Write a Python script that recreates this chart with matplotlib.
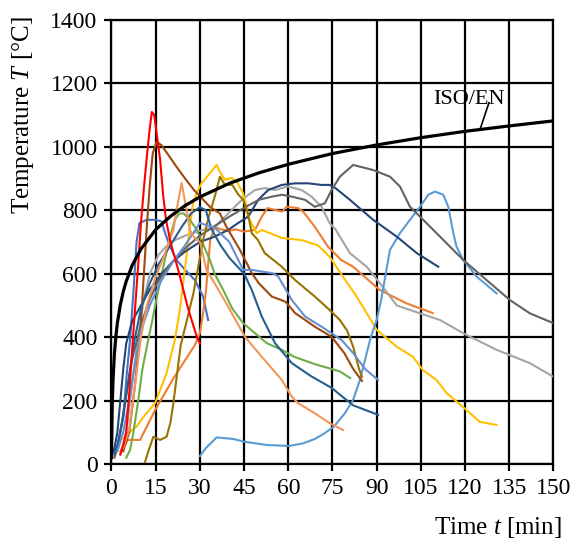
import matplotlib
matplotlib.use("Agg")
import matplotlib.pyplot as plt

# fonts ---------------------------------------------------------------
plt.rcParams['font.family'] = ['Liberation Serif', 'DejaVu Serif']
plt.rcParams['mathtext.fontset'] = 'custom'
plt.rcParams['mathtext.rm'] = 'Liberation Serif'
plt.rcParams['mathtext.it'] = 'Liberation Serif:italic'

# standard fire curve (ISO 834 / EN 1991-1-2), values in min / degC
iso_t = [0, 0.25, 0.5, 1, 1.5, 2, 3, 4, 5, 7, 10, 15, 20, 25, 30, 40, 50, 60, 75, 90, 105, 120, 135, 150]
iso_T = [20, 185, 261, 349, 404, 445, 502, 544, 576, 626, 678, 739, 781, 815, 842, 885, 918, 945, 979, 1006, 1029, 1049, 1066, 1082]

# measured gas temperatures, one pair of lists per test
red_t = [3, 4, 5, 6, 7, 8, 9, 10, 11, 12, 13, 13.7, 14.5, 15.5, 16.5, 17.5, 18.5, 20, 23, 26, 29, 30]
red_T = [30, 60, 100, 220, 360, 490, 620, 760, 870, 970, 1060, 1110, 1100, 1030, 960, 850, 770, 700, 600, 490, 400, 380]

brown_t = [4, 6, 8, 10, 11, 12, 13, 14, 15.3, 17, 20, 22, 25, 28, 33.4, 36.8, 39, 43.6, 47.6, 50, 54.4, 59, 62.3, 69, 74.7, 79, 82, 85]
brown_T = [40, 100, 250, 450, 600, 750, 880, 980, 1016, 1005, 965, 938, 900, 864, 811, 790, 748, 675, 602, 570, 528, 512, 476, 433, 401, 350, 300, 262]

olive_t = [11.4, 12.5, 14.2, 16.5, 18.7, 20, 21, 23.5, 25.5, 27.8, 31.1, 33, 35, 36.8, 38.5, 41, 43, 44.7, 46.3, 47.6, 49.7, 52, 57.8, 62.3, 69, 74, 77.5, 80, 82, 84, 85]
olive_T = [7, 40, 86, 76, 86, 130, 192, 375, 450, 538, 706, 780, 842, 906, 880, 880, 850, 833, 790, 728, 706, 665, 622, 580, 528, 486, 454, 420, 370, 300, 275]

gold_t = [4, 7, 8.5, 11, 14.8, 18.7, 21.5, 23.2, 25, 26.6, 27.7, 28.9, 30.6, 33.4, 35.7, 36.8, 38.5, 40.8, 42.5, 44.6, 45.9, 46.3, 49.3, 51, 57.8, 64.5, 70, 74, 78.6, 83.2, 86.6, 90, 96.8, 102.3, 105.7, 110.3, 113.7, 120.5, 125, 130.7]
gold_T = [80, 107, 118, 150, 192, 287, 391, 486, 620, 748, 823, 855, 886, 917, 943, 921, 896, 902, 890, 855, 811, 780, 728, 738, 713, 706, 690, 654, 590, 528, 476, 423, 370, 338, 296, 265, 224, 170, 133, 123]

orange_t = [3, 5.6, 9.7, 14.8, 21, 28.3, 30, 31, 32, 33, 33.5, 35, 37, 40, 42, 45, 48.7, 51, 53, 55.5, 58, 59.4, 63.3, 65, 69, 73.5, 78, 82, 91, 100, 109]
orange_T = [40, 76, 76, 170, 270, 375, 413, 470, 540, 650, 706, 748, 740, 735, 740, 733, 738, 780, 807, 801, 796, 811, 807, 796, 748, 685, 643, 622, 549, 507, 476]

peach_t = [4, 6, 8, 10, 12, 15, 18, 21, 22.1, 23.8, 25.5, 26.6, 28, 30, 32.3, 35, 39.6, 45.3, 51, 57.8, 61.2, 63.3, 69, 74, 78.6]
peach_T = [50, 110, 250, 400, 500, 590, 660, 738, 801, 886, 801, 738, 715, 700, 610, 570, 496, 401, 338, 265, 212, 192, 160, 129, 107]

green_t = [5, 6.3, 7.4, 9.1, 10.5, 12, 14, 15.9, 18, 20, 21.5, 23, 24.5, 26.6, 28.9, 33.4, 35, 37.9, 41, 44.7, 52.7, 57.8, 62, 69, 77.5, 81]
green_T = [20, 44, 98, 202, 300, 370, 460, 549, 640, 720, 770, 790, 790, 770, 740, 643, 600, 549, 490, 444, 381, 360, 338, 315, 292, 271]

skyblue_t = [30, 32, 35.7, 41.3, 45.3, 52.7, 60.3, 65, 69, 72, 75.5, 79.2, 82, 84.3, 86.6, 88, 90, 91.5, 94.5, 97.9, 101.3, 104.7, 107.5, 109.8, 112.6, 114.3, 116, 117.1, 119.4, 123.9, 130.7]
skyblue_T = [25, 50, 84, 79, 70, 60, 57, 65, 79, 95, 118, 160, 202, 265, 349, 400, 454, 517, 675, 728, 770, 811, 849, 859, 849, 811, 728, 685, 643, 591, 538]

navy_t = [0, 1, 2, 3, 4, 5, 7, 10, 13, 17, 21, 25, 30, 35, 39.6, 43, 46.4, 49.8, 53.2, 57.8, 62.3, 66.8, 71.3, 74.1, 76, 80.9, 88.8, 96.8, 103.6, 110.9]
navy_T = [30, 50, 100, 200, 300, 380, 450, 500, 550, 600, 640, 670, 700, 717, 738, 760, 780, 833, 864, 880, 885, 885, 880, 880, 870, 833, 770, 717, 665, 622]

dgray_t = [1, 2, 3, 5, 7, 10, 13, 16, 20, 25, 30, 35, 40, 46.4, 50, 54.4, 57.8, 61.2, 65.7, 69, 72.4, 74.7, 77.5, 82, 88.8, 94.5, 97.9, 101.3, 104.7, 111.5, 119.4, 127.3, 135.2, 142, 150]
dgray_T = [20, 50, 100, 220, 330, 440, 520, 580, 630, 680, 720, 750, 780, 815, 833, 843, 849, 843, 833, 811, 822, 864, 906, 943, 927, 906, 875, 811, 780, 717, 643, 580, 517, 475, 444]

gray_t = [3, 5, 7, 9, 11, 13, 16, 20, 25, 30, 35, 39.6, 44.2, 48.7, 52, 55.5, 59.9, 64.5, 67.9, 71.3, 74, 76, 80.9, 86.6, 91.1, 96.8, 104.7, 111.5, 119.4, 130.7, 142, 150]
gray_T = [30, 100, 250, 400, 520, 600, 660, 700, 720, 735, 748, 790, 833, 864, 870, 864, 875, 864, 843, 811, 760, 740, 665, 622, 570, 500, 475, 454, 412, 360, 318, 275]

steel_t = [1, 2, 4, 6, 8, 10, 13, 16, 20, 24, 27, 30, 32, 34, 37, 40, 43, 45, 47.6, 51, 55.5, 61.2, 67.9, 74.7, 82, 90.5]
steel_T = [30, 60, 150, 280, 400, 490, 570, 630, 690, 750, 790, 810, 800, 740, 690, 650, 620, 600, 549, 465, 381, 318, 276, 240, 185, 155]

cornflower_t = [2, 4, 6, 8, 10, 13, 17, 21, 25, 30, 35, 40, 44.7, 47.6, 54.9, 56.6, 61.2, 65.7, 71.3, 78.1, 82, 86, 90.5]
cornflower_T = [40, 100, 200, 320, 420, 500, 580, 640, 690, 760, 745, 700, 612, 612, 601, 591, 517, 465, 433, 391, 350, 300, 265]

blue_t = [0, 1, 2.3, 4, 5.2, 6.3, 7.5, 8.5, 9.5, 12, 15, 17, 18.2, 19.9, 22.1, 25, 28.3, 31.1, 32.8]
blue_T = [30, 40, 65, 149, 286, 391, 550, 700, 760, 770, 770, 765, 728, 685, 643, 612, 580, 528, 454]

series = [
    (blue_t, blue_T, '#4472C4'),
    (orange_t, orange_T, '#ED7D31'),
    (gray_t, gray_T, '#A5A5A5'),
    (gold_t, gold_T, '#FFC000'),
    (skyblue_t, skyblue_T, '#5B9BD5'),
    (green_t, green_T, '#70AD47'),
    (navy_t, navy_T, '#264478'),
    (brown_t, brown_T, '#9E480E'),
    (dgray_t, dgray_T, '#636363'),
    (olive_t, olive_T, '#997300'),
    (steel_t, steel_T, '#255E91'),
    (cornflower_t, cornflower_T, '#698ED0'),
    (peach_t, peach_T, '#F1975A'),
    (red_t, red_T, '#FF0000'),
]

# figure --------------------------------------------------------------
fig = plt.figure(figsize=(5.75, 5.45), dpi=100)
ax = fig.add_axes([0.1939, 0.1486, 0.7687, 0.8147])

for t, T, c in series:
    ax.plot(t, T, color=c, linewidth=1.5, solid_joinstyle='round', zorder=3)
ax.plot(iso_t, iso_T, color='black', linewidth=2.3, zorder=4)

# ISO/EN label with leader line
ax.plot([125, 128.1], [1053, 1139], color='black', linewidth=1.2, zorder=4)
ax.text(133.5, 1150, 'ISO/EN', ha='right', va='center', fontsize=16, zorder=5)

ax.set_xlim(0, 150)
ax.set_ylim(0, 1400)
ax.set_xticks(range(0, 151, 15))
ax.set_yticks(range(0, 1401, 200))
ax.grid(True, color='black', linewidth=1.6, zorder=1)
ax.set_axisbelow(True)
for s in ax.spines.values():
    s.set_linewidth(1.6)
ax.tick_params(direction='out', length=5, width=1.6, pad=5, labelsize=17)

ax.set_ylabel('Temperature $T$ [°C]', fontsize=18, va='center')
ax.yaxis.set_label_coords(-0.2, 0.786)
ax.set_xlabel('Time $t$ [min]', fontsize=18, ha='right', va='center')
ax.xaxis.set_label_coords(1.02, -0.142)

plt.savefig('out.png', dpi=100)
